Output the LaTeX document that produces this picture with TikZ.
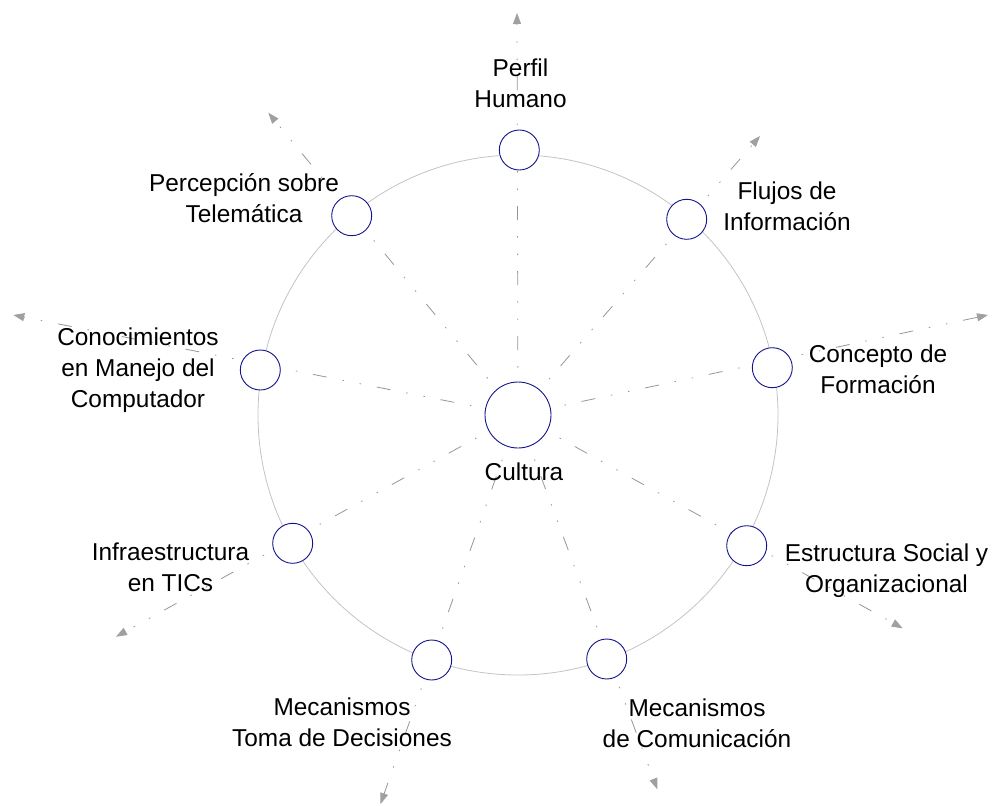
\documentclass[tikz,border=0pt]{standalone}
\usepackage{fontspec}
\setmainfont{Liberation Sans}
\usetikzlibrary{arrows.meta,backgrounds}
\definecolor{navyc}{RGB}{20,20,140}
\definecolor{raygray}{RGB}{150,150,150}
\definecolor{ringgray}{RGB}{195,195,195}
\definecolor{tipgray}{RGB}{160,160,160}
\newcommand{\twol}[1]{\begin{tabular}[t]{@{}c@{}}#1\end{tabular}}
\tikzset{
  smallc/.style={circle,draw=navyc,fill=white,line width=0.9pt,minimum size=40pt,inner sep=0pt},
  bigc/.style={circle,draw=navyc,fill=white,line width=0.9pt,minimum size=66pt,inner sep=0pt},
  lbl/.style={anchor=base,inner sep=0pt,font=\fontsize{24.4}{31}\selectfont,text=black},
  ray/.style={draw=raygray,line width=0.8pt,dash pattern=on 14pt off 16pt on 1.5pt off 16pt on 1.5pt off 16pt,
    -{Triangle[length=11pt,width=8pt,fill=tipgray,color=tipgray]}},
  ringst/.style={draw=ringgray,line width=0.8pt}
}
\begin{document}
\begin{tikzpicture}[x=1pt,y=-1pt]
\useasboundingbox (0,0) rectangle (997,806);
% centre
\node[bigc] (cult) at (518,415) {};
% small circles
\node[smallc] (c1) at (519.3,150) {};
\node[smallc] (c2) at (686.7,219.3) {};
\node[smallc] (c3) at (772.3,367.7) {};
\node[smallc] (c4) at (746.7,545.7) {};
\node[smallc] (c5) at (606.7,659) {};
\node[smallc] (c6) at (431.7,660) {};
\node[smallc] (c7) at (292.7,543.3) {};
\node[smallc] (c8) at (260.3,370) {};
\node[smallc] (c9) at (351.7,215.7) {};
% arrow tips
\coordinate (t1) at (517,13);
\coordinate (t2) at (760,136);
\coordinate (t3) at (988,315);
\coordinate (t4) at (902.7,628.3);
\coordinate (t5) at (657.3,789.3);
\coordinate (t6) at (380.5,804);
\coordinate (t7) at (116,636.7);
\coordinate (t8) at (13.3,315);
\coordinate (t9) at (268.3,112.7);
\begin{scope}[on background layer]
  \draw[ringst] (cult.center) circle[radius=260];
  \foreach \i in {1,...,9}{
    \draw[ray] (cult.center) -- (t\i);
  }
\end{scope}
% labels
\node[lbl] (l1) at (520.5,76) {\twol{Perfil\\Humano}};
\node[lbl] (l2) at (787,199) {\twol{Flujos de\\Información}};
\node[lbl] (l3) at (878,362.7) {\twol{Concepto de\\Formación}};
\node[lbl] (l4) at (886.5,561) {\twol{Estructura Social y\\Organizacional}};
\node[lbl] (l5) at (697,716) {\twol{Mecanismos\\de Comunicación}};
\node[lbl] (l6) at (342,715) {\twol{Mecanismos\\Toma de Decisiones}};
\node[lbl] (l7) at (170.5,560.7) {\twol{Infraestructura\\en TICs}};
\node[lbl] (l8) at (138,345) {\twol{Conocimientos\\en Manejo del\\Computador}};
\node[lbl] (l9) at (244,191.7) {\twol{Percepción sobre\\Telemática}};
\node[lbl] (l0) at (524,480) {Cultura};
\end{tikzpicture}
\end{document}
